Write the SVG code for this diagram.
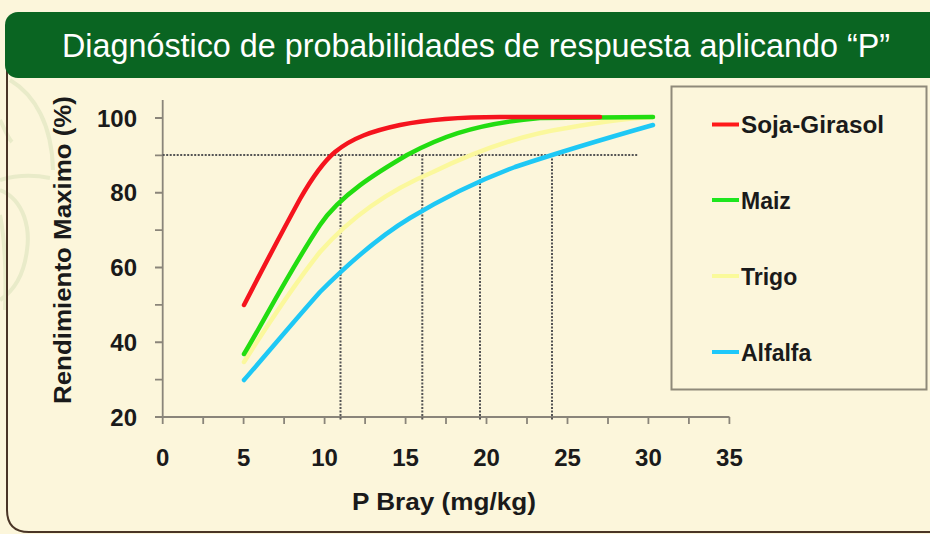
<svg xmlns="http://www.w3.org/2000/svg" width="930" height="534" viewBox="0 0 930 534">
<style>
.lbl{font-family:"Liberation Sans",Arial,sans-serif;font-weight:bold;fill:#1a1a1a}
.ytk{font-size:24px;text-anchor:end}
.xtk{font-size:24px;text-anchor:middle}
.leg{font-size:23px}
.ax{stroke:#8a857a;stroke-width:1.8;fill:none}
.dot{stroke:#555;stroke-width:2;stroke-dasharray:2 1.5;fill:none}
.crv{fill:none;stroke-width:4.5;stroke-linecap:round;stroke-linejoin:round}
.deco{fill:none;stroke:#e9ebc9;stroke-width:4}
</style>
<rect x="0" y="0" width="930" height="534" fill="#fcf6db"/>
<g id="decoration">
<path class="deco" d="M10,80 C35,95 52,125 53,170"/>
<path class="deco" d="M0,120 C5,130 8,138 12,142"/>
<path class="deco" d="M0,180 C20,174 40,176 50,178"/>
<path class="deco" d="M0,190 C25,200 30,230 27,250 C24,275 15,290 0,300"/>
<path class="deco" d="M0,215 C5,240 6,280 5,310"/>
</g>
<g id="panel">
<path d="M7,60 V510 Q7,532 29,532 H932" fill="none" stroke="#4a3526" stroke-width="2"/>
</g>
<g id="header">
<rect x="5" y="12" width="940" height="66" rx="13" fill="#0a6522"/>
<text x="62" y="57" font-family="'Liberation Sans',Arial,sans-serif" font-size="33" fill="#ffffff" textLength="828" lengthAdjust="spacingAndGlyphs">Diagnóstico de probabilidades de respuesta aplicando “P”</text>
</g>
<g id="axes">
<line class="ax" x1="162.7" y1="100" x2="162.7" y2="424"/>
<line class="ax" x1="155" y1="417" x2="729.5" y2="417"/>
<path class="ax" d="M155,379.6H162.7M155,342.25H162.7M155,304.9H162.7M155,267.5H162.7M155,230.1H162.7M155,192.75H162.7M155,155.4H162.7M155,118H162.7"/>
<path class="ax" d="M203.2,417V424M243.6,417V424M284.1,417V424M324.6,417V424M365.1,417V424M405.6,417V424M446,417V424M486.5,417V424M527,417V424M567.5,417V424M608,417V424M648.4,417V424M688.9,417V424M729.4,417V424"/>
</g>
<g id="tick-labels" class="lbl">
<text class="ytk" x="137" y="126.5">100</text>
<text class="ytk" x="137" y="201.3">80</text>
<text class="ytk" x="137" y="276">60</text>
<text class="ytk" x="137" y="350.8">40</text>
<text class="ytk" x="137" y="425.5">20</text>
<text class="xtk" x="162.7" y="466">0</text>
<text class="xtk" x="243.6" y="466">5</text>
<text class="xtk" x="324.6" y="466">10</text>
<text class="xtk" x="405.6" y="466">15</text>
<text class="xtk" x="486.5" y="466">20</text>
<text class="xtk" x="567.5" y="466">25</text>
<text class="xtk" x="648.4" y="466">30</text>
<text class="xtk" x="729.4" y="466">35</text>
</g>
<g id="axis-titles" class="lbl">
<text x="0" y="0" font-size="23" text-anchor="middle" transform="translate(71,250) rotate(-90)" textLength="308" lengthAdjust="spacingAndGlyphs">Rendimiento Maximo (%)</text>
<text x="444" y="510" font-size="23" text-anchor="middle" textLength="184" lengthAdjust="spacingAndGlyphs">P Bray (mg/kg)</text>
</g>
<g id="connectors">
<path class="dot" d="M162.7,155H638"/>
<path class="dot" d="M340.5,155V421"/>
<path class="dot" d="M422.3,155V421"/>
<path class="dot" d="M480,155V421"/>
<path class="dot" d="M552,155V421"/>
</g>
<g id="curves">
<path id="alfalfa" class="crv" stroke="#1ec8f5" d="M244,380 C265,356 295,320 320,292 C350,262 380,236 410,218 C445,197 480,180 515,167 C545,157 600,140 653,125"/>
<path id="trigo" class="crv" stroke="#fbf89c" d="M244,362 C258,340 290,290 320,252 C350,218 390,190 433,172 C470,154 520,135 567,128 C600,122 630,118 653,117"/>
<path id="maiz" class="crv" stroke="#22dd11" d="M244,354 C260,328 290,270 320,225 C340,195 378,172 407,155 C435,140 470,124 540,118 L653,117"/>
<path id="soja" class="crv" stroke="#f5141e" d="M244,305 C262,270 282,232 300,199 C312,178 322,163 335,152 C352,138 372,131 400,125 C430,119 460,117 500,117 L600,117"/>
</g>
<g id="legend">
<rect x="671.5" y="86.5" width="255" height="303" fill="none" stroke="#8f8a7a" stroke-width="2"/>
<g class="lbl leg">
<line x1="712" y1="124.5" x2="739" y2="124.5" stroke="#ff1a1a" stroke-width="4"/>
<text x="741" y="133" textLength="143" lengthAdjust="spacingAndGlyphs">Soja-Girasol</text>
<line x1="712" y1="200" x2="739" y2="200" stroke="#1ee61e" stroke-width="4"/>
<text x="741" y="209">Maiz</text>
<line x1="712" y1="276" x2="739" y2="276" stroke="#fafa9a" stroke-width="4"/>
<text x="741" y="285">Trigo</text>
<line x1="712" y1="352" x2="739" y2="352" stroke="#1ec8fa" stroke-width="4"/>
<text x="741" y="361">Alfalfa</text>
</g>
</g>
</svg>
